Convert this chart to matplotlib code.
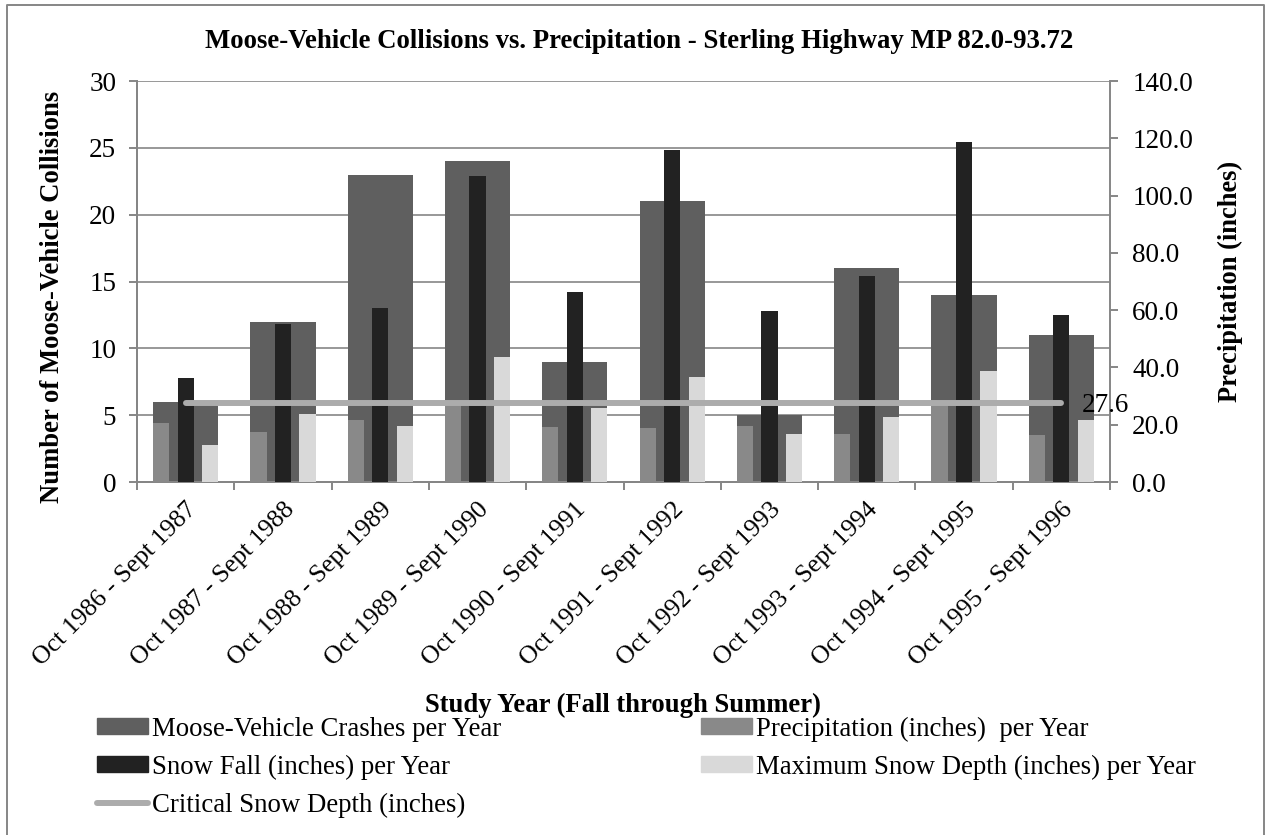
import numpy as np
import matplotlib
matplotlib.use("Agg")
import matplotlib.pyplot as plt
from matplotlib.patches import Patch
from matplotlib.lines import Line2D

plt.rcParams["font.family"] = ["Liberation Serif", "DejaVu Serif"]

anios = ["Oct 1986 - Sept 1987", "Oct 1987 - Sept 1988", "Oct 1988 - Sept 1989",
         "Oct 1989 - Sept 1990", "Oct 1990 - Sept 1991", "Oct 1991 - Sept 1992",
         "Oct 1992 - Sept 1993", "Oct 1993 - Sept 1994", "Oct 1994 - Sept 1995",
         "Oct 1995 - Sept 1996"]
choques = [6, 12, 23, 24, 9, 21, 5, 16, 14, 11]
precipitacion = [20.6, 17.6, 21.6, 27.0, 19.1, 19.0, 19.6, 16.6, 27.0, 16.4]
nevada = [36.4, 55.0, 60.7, 106.7, 66.4, 115.9, 59.7, 71.9, 118.8, 58.2]
prof_max = [12.8, 23.7, 19.7, 43.8, 25.7, 36.8, 16.8, 22.7, 38.8, 21.8]
prof_critica = [27.6] * len(anios)

gris_eje = "#868686"
c_choques = "#5f5f5f"
c_precip = "#898989"
c_nieve = "#222222"
c_prof = "#d9d9d9"
c_critica = "#acacac"

W, H = 1271, 835
fig = plt.figure(figsize=(W / 100, H / 100), dpi=100)
rend = fig.canvas.get_renderer()


def tam_para(texto, ancho_px, negrita=False):
    # tamaño de letra para que el texto mida ancho_px de largo
    t = fig.text(0, 0, texto, fontsize=20, fontweight="bold" if negrita else "normal")
    w = t.get_window_extent(rend).width
    t.remove()
    return 20 * ancho_px / w


ax = fig.add_axes([137 / W, 1 - 482 / H, (1110 - 137) / W, (482 - 81) / H])
ax2 = ax.twinx()

x = np.arange(len(anios))
ax.bar(x, choques, width=0.67, color=c_choques, zorder=2)
ax.set_ylim(0, 30)
ax.set_yticks(range(0, 31, 5))
ax.set_xlim(-0.5, len(anios) - 0.5)
ax.grid(axis="y", color=gris_eje, linewidth=1.2, zorder=0)
ax.set_axisbelow(True)

ancho = 0.167
sep = 0.252
ax2.bar(x - sep, precipitacion, width=ancho, color=c_precip, zorder=3)
ax2.bar(x, nevada, width=ancho, color=c_nieve, zorder=3)
ax2.bar(x + sep, prof_max, width=ancho, color=c_prof, zorder=3)
ax2.plot(x, prof_critica, color=c_critica, linewidth=4.3, solid_capstyle="round", zorder=4)
ax2.annotate("27.6", (x[-1], prof_critica[-1]), xytext=(15, -1.5), textcoords="offset points",
             ha="left", va="center", fontsize=19.5)
ax2.set_ylim(0, 140)
ax2.set_yticks(range(0, 141, 20))
ax2.set_yticklabels(["%.1f" % v for v in range(0, 141, 20)])

for a in (ax, ax2):
    for s in a.spines.values():
        s.set_color(gris_eje)
        s.set_linewidth(1.4)
    a.spines["top"].set_visible(False)
ax.spines["right"].set_visible(False)

ax.set_xticks(x)
ax.set_xticklabels(anios, rotation=45, ha="right", rotation_mode="anchor", fontsize=18.5)
ax.set_xticks(np.arange(-0.5, len(anios)), minor=True)
ax.tick_params(axis="x", which="major", length=0, pad=12)
ax.tick_params(axis="x", which="minor", length=6, width=1.4, color=gris_eje, direction="out")
ax.tick_params(axis="y", length=6, width=1.4, color=gris_eje, labelsize=19.5, pad=9)
ax2.tick_params(axis="y", length=6, width=1.4, color=gris_eje, labelsize=19.5, pad=10)

ylab_izq = "Number of Moose-Vehicle Collisions"
ylab_der = "Precipitation (inches)"
ax.set_ylabel(ylab_izq, fontsize=tam_para(ylab_izq, 412, True), fontweight="bold")
ax.yaxis.set_label_coords(-72 / 973, (482 - 297) / 401)
ax2.set_ylabel(ylab_der, fontsize=tam_para(ylab_der, 242, True), fontweight="bold")
ax2.yaxis.set_label_coords(1 + (1218 - 1110) / 973, 0.5)

titulo = "Moose-Vehicle Collisions vs. Precipitation - Sterling Highway MP 82.0-93.72"
fig.text(639 / W, 1 - 48 / H, titulo, ha="center", va="baseline",
         fontsize=tam_para(titulo, 866, True), fontweight="bold")
xlab = "Study Year (Fall through Summer)"
fig.text(623 / W, 1 - 712 / H, xlab, ha="center", va="baseline",
         fontsize=tam_para(xlab, 396, True), fontweight="bold")

t_ley = tam_para("Maximum Snow Depth (inches) per Year", 440)
entradas = [
    (Patch(color=c_choques), "Moose-Vehicle Crashes per Year", 97, 729),
    (Patch(color=c_nieve), "Snow Fall (inches) per Year", 97, 767),
    (Line2D([], [], color=c_critica, linewidth=4.3, solid_capstyle="round"),
     "Critical Snow Depth (inches)", 97, 805),
    (Patch(color=c_precip), "Precipitation (inches)  per Year", 701, 729),
    (Patch(color=c_prof), "Maximum Snow Depth (inches) per Year", 701, 767),
]
for h, etiqueta, px, py in entradas:
    fig.legend([h], [etiqueta], loc="center left", bbox_to_anchor=(px / W, 1 - py / H),
               frameon=False, fontsize=t_ley, handlelength=51 / (t_ley * 100 / 72),
               handleheight=0.5, handletextpad=0.15, borderpad=0, borderaxespad=0)

borde = Line2D([7 / W, 7 / W, 1264 / W, 1264 / W], [0, 1 - 5 / H, 1 - 5 / H, 0],
               transform=fig.transFigure, color=gris_eje, linewidth=1.4)
fig.add_artist(borde)

fig.savefig("out.png", dpi=100)
